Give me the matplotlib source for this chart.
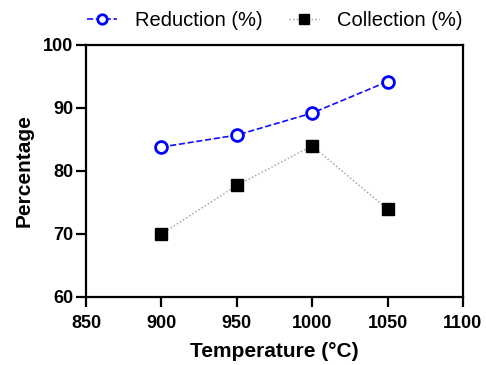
import matplotlib
matplotlib.use("Agg")
import matplotlib.pyplot as plt

# ---------------- DATA ---------------- #

temperature = [900, 950, 1000, 1050]
reduction = [83.8, 85.7, 89.2, 94.2]
collection = [70.0, 77.7, 84.0, 73.9]

x_ticks = [850, 900, 950, 1000, 1050, 1100]
y_ticks = [60, 70, 80, 90, 100]

# ---------------- PLOT ---------------- #

plt.rcParams["font.family"] = ["Liberation Sans", "DejaVu Sans"]

fig = plt.figure(figsize=(4.86, 3.65), dpi=100)
ax = fig.add_axes([86 / 486, 68 / 365, 377 / 486, 252 / 365])

ax.plot(temperature, reduction, linestyle="--", color="#1010ff", linewidth=1.2,
        marker="o", markersize=8.5, markerfacecolor="white",
        markeredgecolor="#0000ff", markeredgewidth=2, label="Reduction (%)")
ax.plot(temperature, collection, linestyle=":", color="#999999", linewidth=1.0,
        marker="s", markersize=9, markerfacecolor="black",
        markeredgecolor="black", label="Collection (%)")

ax.set_xlim(850, 1100)
ax.set_ylim(60, 100)
ax.set_xticks(x_ticks)
ax.set_yticks(y_ticks)

for spine in ax.spines.values():
    spine.set_linewidth(1.6)
ax.tick_params(direction="out", width=1.6, length=7, labelsize=13)
ax.tick_params(axis="x", pad=6)
ax.tick_params(axis="y", pad=2)
for lab in ax.get_xticklabels() + ax.get_yticklabels():
    lab.set_fontweight("bold")

ax.set_xlabel("Temperature (\u00b0C)", fontsize=15, fontweight="bold", labelpad=7)
ax.set_ylabel("Percentage", fontsize=15, fontweight="bold", labelpad=7)

ax.legend(loc="lower center", bbox_to_anchor=(0.5, 1.02), ncol=2, frameon=False,
          fontsize=14.5, handlelength=1.5, handletextpad=0.9, columnspacing=1.3,
          markerscale=0.8, borderaxespad=0.1)

fig.savefig("out.png", dpi=100)
